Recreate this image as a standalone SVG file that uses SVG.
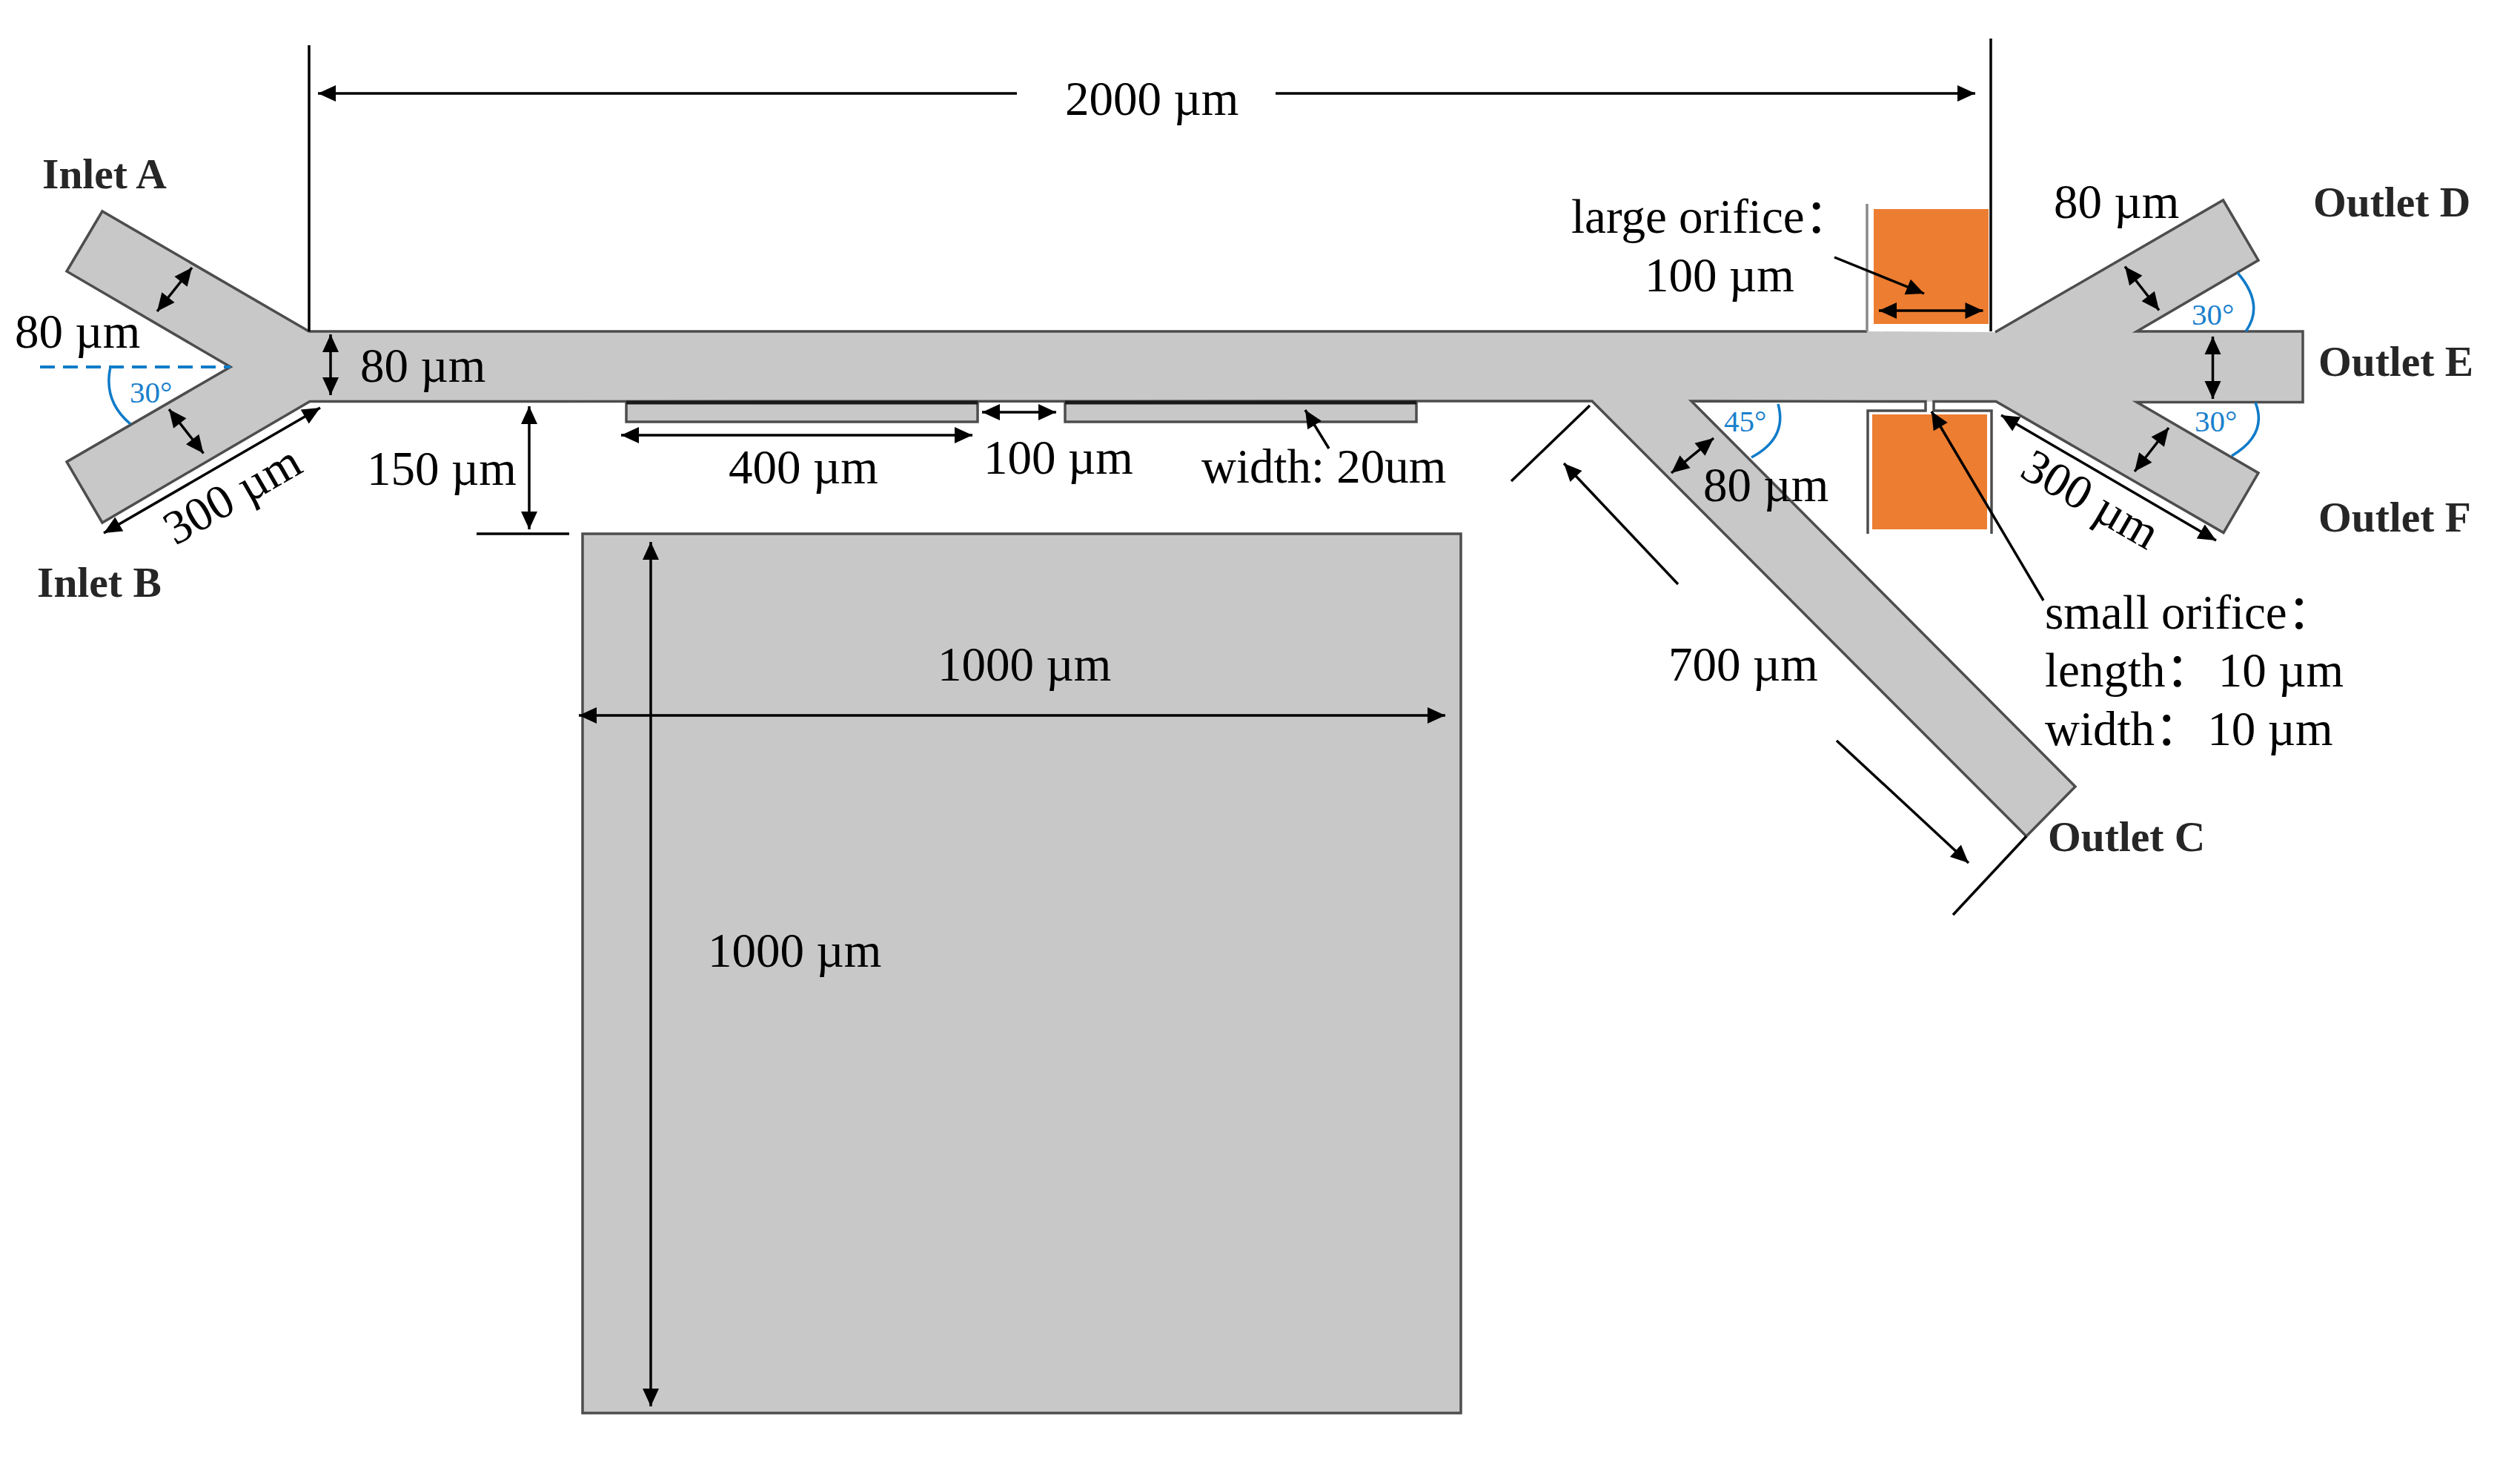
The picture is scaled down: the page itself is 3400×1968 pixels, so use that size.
<svg xmlns="http://www.w3.org/2000/svg" width="3400" height="1968" viewBox="0 0 3400 1968">
<style>
.ch{fill:#c8c8c8;stroke:none}
.edge{fill:none;stroke:#4d4d4d;stroke-width:3.5;stroke-linejoin:miter}
.frame{fill:none;stroke:#8a8a8a;stroke-width:3.5}
.orange{fill:#ed7d31}
.dim{fill:none;stroke:#000;stroke-width:3.5}
.da{marker-start:url(#a);marker-end:url(#a)}
.sa{marker-end:url(#a)}
.blue{fill:none;stroke:#0f7bc9;stroke-width:3.5}
text{font-family:"Liberation Serif","Noto Sans CJK SC",serif}
.t{font-size:65px;fill:#000}
.b{font-size:57.5px;font-weight:bold;fill:#262626}
.d{font-size:41px;fill:#1a7fcc}
</style>
<defs>
<marker id="a" markerUnits="userSpaceOnUse" markerWidth="26" markerHeight="24" refX="24" refY="11" orient="auto-start-reverse" overflow="visible"><path d="M0,0L24,11L0,22Z" fill="#000"/></marker>
</defs>
<rect width="3400" height="1968" fill="#fff"/>
<g id="channel">
<path class="ch" d="M417,447L138,285L90,366L311,495L90,623L138,705L418,541.5L2148,541L2734,1128L2800,1061L2282,541L2693,542L3000,718.5L3047,638L2883,542.5L3107,542L3107,447L2883,447L3047,351L2999.5,270L2692,448L2519,447Z"/>
<path class="edge" d="M2519,447L417,447L138,285L90,366L311,495L90,623L138,705L418,541.5L2148,541L2734,1128L2800,1061L2282,541L2598,541.5V554H2520V720M2687,720V554H2609V541.5H2693L3000,718.5L3047,638L2883,542.5H3107V447H2883L3047,351L2999.5,270L2692,448"/>
<path class="frame" d="M2519,275V447"/>
</g>
<g id="electrode-top"><rect class="orange" x="2528" y="282" width="155" height="155"/></g>
<g id="electrode-bottom"><rect class="orange" x="2526" y="559" width="155" height="155"/></g>
<g id="strip-1"><rect x="845" y="542" width="474" height="27" class="ch"/><path class="edge" d="M845,542V569H1319V542"/><path d="M845,543H1319" stroke="#1a1a1a" stroke-width="5"/></g>
<g id="strip-2"><rect x="1437" y="542" width="474" height="27" class="ch"/><path class="edge" d="M1437,542V569H1911V542"/><path d="M1437,543H1911" stroke="#1a1a1a" stroke-width="5"/></g>
<g id="chamber"><rect x="786" y="720" width="1185" height="1186" class="ch"/><rect x="786" y="720" width="1185" height="1186" class="edge"/></g>
<g id="connectors">
<path class="dim" d="M417,61V447M2686,52V447M643,720H768M2145,547L2039,649M2734,1128L2635,1234"/>
<path class="dim" d="M429,126H1372" style="marker-start:url(#a)"/>
<path class="dim sa" d="M1721,126H2665"/>
<path class="dim da" d="M212,420L259,361"/>
<path class="dim da" d="M228,552L274.5,611.5"/>
<path class="dim da" d="M446,451V533"/>
<path class="dim da" d="M432,550L140,719"/>
<path class="dim da" d="M714,548V714"/>
<path class="dim da" d="M838,587H1312"/>
<path class="dim da" d="M1325,556H1425"/>
<path class="dim sa" d="M1793,605L1761,553"/>
<path class="dim da" d="M878,731V1897"/>
<path class="dim da" d="M781,965H1950"/>
<path class="dim sa" d="M2475,347L2596,396"/>
<path class="dim da" d="M2535,419H2675.5"/>
<path class="dim da" d="M2867,359.5L2913,418.5"/>
<path class="dim da" d="M2985.5,454V538"/>
<path class="dim da" d="M2926,577L2880,636"/>
<path class="dim da" d="M2700,560L2990,729"/>
<path class="dim sa" d="M2264,788L2110,625"/>
<path class="dim sa" d="M2478,999L2656,1164"/>
<path class="dim da" d="M2255,638L2312,591"/>
<path class="dim sa" d="M2757,810L2606,555"/>
<path d="M54,495H311" fill="none" stroke="#0f7bc9" stroke-width="4" stroke-dasharray="20,11"/>
<path class="blue" d="M149,495Q139,541 176,572"/>
<path class="blue" d="M3019,368Q3056,411 3030,447"/>
<path class="blue" d="M3043,543Q3060,586 3011,615"/>
<path class="blue" d="M2399,545Q2412,591 2363,617"/>
</g>
<g id="labels">
<text class="t" x="1437" y="155">2000 µm</text>
<text class="b" x="57" y="254">Inlet A</text>
<text class="b" x="50" y="805">Inlet B</text>
<text class="t" x="20" y="469">80 µm</text>
<text class="t" x="486" y="515">80 µm</text>
<text class="t" x="495" y="654">150 µm</text>
<text class="t" text-anchor="middle" transform="translate(324,686) rotate(-30)">300 µm</text>
<text class="d" x="175" y="543">30°</text>
<text class="t" x="983" y="652">400 µm</text>
<text class="t" x="1327" y="639">100 µm</text>
<text class="t" x="1621" y="651">width: 20um</text>
<text class="t" x="1265" y="918">1000 µm</text>
<text class="t" x="955" y="1304">1000 µm</text>
<text class="t" x="2120" y="314">large orifice：</text>
<text class="t" x="2219" y="393">100 µm</text>
<text class="t" x="2771" y="294">80 µm</text>
<text class="b" x="3121" y="292">Outlet D</text>
<text class="b" x="3128" y="507">Outlet E</text>
<text class="b" x="3128" y="717">Outlet F</text>
<text class="d" x="2957" y="438">30°</text>
<text class="d" x="2961" y="582">30°</text>
<text class="d" x="2326" y="582">45°</text>
<text class="t" x="2298" y="676">80 µm</text>
<text class="t" x="2251" y="918">700 µm</text>
<text class="t" text-anchor="middle" transform="translate(2810,692) rotate(30)">300 µm</text>
<text class="t" x="2759" y="848">small orifice：</text>
<text class="t" x="2759" y="926">length：<tspan dx="-10">  10 µm</tspan></text>
<text class="t" x="2759" y="1005">width：<tspan dx="-10">  10 µm</tspan></text>
<text class="b" x="2763" y="1148">Outlet C</text>
</g>
</svg>
